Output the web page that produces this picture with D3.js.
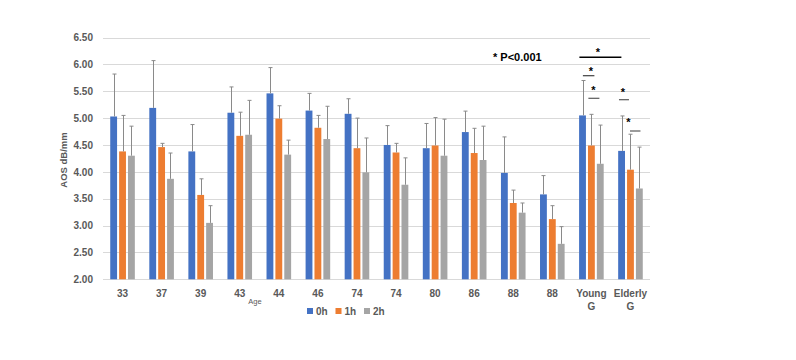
<!DOCTYPE html>
<html><head><meta charset="utf-8">
<script src="https://cdn.jsdelivr.net/npm/d3@7"></script>
<style>body{margin:0;background:#fff}svg{display:block}text{font-family:"Liberation Sans",Arial,sans-serif}</style>
</head><body>
<svg id="c" width="796" height="360"></svg>
<script>
const categories = ["33","37","39","43","44","46","74","74 ","80","86","88","88 ","Young G","Elderly G"];
const series = ["0h","1h","2h"];
const colors = ["#4472C4","#ED7D31","#A5A5A5"];
const mean0h = [5.03,5.19,4.38,5.10,5.46,5.14,5.08,4.50,4.44,4.74,3.98,3.58,5.05,4.39];
const mean1h = [4.38,4.46,3.57,4.67,4.99,4.82,4.44,4.36,4.49,4.35,3.42,3.12,4.49,4.04];
const mean2h = [4.30,3.87,3.05,4.69,4.32,4.61,3.99,3.76,4.30,4.22,3.24,2.66,4.15,3.69];
const err0h = [0.79,0.88,0.50,0.48,0.48,0.32,0.28,0.36,0.46,0.39,0.67,0.35,0.65,0.65];
const err1h = [0.67,0.07,0.30,0.44,0.24,0.23,0.56,0.17,0.52,0.46,0.24,0.25,0.58,0.66];
const err2h = [0.55,0.48,0.32,0.64,0.27,0.61,0.64,0.50,0.68,0.63,0.18,0.32,0.72,0.77];
const yTicks = [2.00,2.50,3.00,3.50,4.00,4.50,5.00,5.50,6.00,6.50];
const means = [mean0h, mean1h, mean2h];
const errs = [err0h, err1h, err2h];

const svg = d3.select("#c");
const x0 = d3.scaleBand().domain(categories).range([103, 650]).padding(0);
const x1 = d3.scaleBand().domain(series).range([-12.3, 12.3]).paddingInner(0.23);
const y = d3.scaleLinear().domain([2, 6.5]).range([279.3, 37.5]);

// gridlines
svg.append("g").selectAll("line").data(yTicks).join("line")
  .attr("x1", 103).attr("x2", 650)
  .attr("y1", d => Math.round(y(d)) + 0.5).attr("y2", d => Math.round(y(d)) + 0.5)
  .attr("stroke", "#d9d9d9").attr("stroke-width", 1);

// y axis labels
const yAxis = d3.axisLeft(y).tickValues(yTicks).tickFormat(d3.format(".2f")).tickSize(0).tickPadding(0);
const ya = svg.append("g").attr("transform", "translate(93,0)").call(yAxis);
ya.select(".domain").remove();
ya.selectAll("text").attr("font-size", 10).attr("font-weight", "bold").attr("fill", "#595959").attr("font-family", "'Liberation Sans',Arial,sans-serif");

// bars
const rows = [];
categories.forEach((c, i) => series.forEach((s, j) => rows.push({c, s, j, v: means[j][i], e: errs[j][i]})));
const g = svg.append("g");
g.selectAll("rect").data(rows).join("rect")
  .attr("x", d => x0(d.c) + x0.bandwidth() / 2 + x1(d.s))
  .attr("width", x1.bandwidth())
  .attr("y", d => y(d.v)).attr("height", d => y(2) - y(d.v))
  .attr("fill", d => colors[d.j]);

// error bars
const eg = svg.append("g").attr("stroke", "#8a8a8a").attr("stroke-width", 1);
rows.forEach(d => {
  const cx = Math.round(x0(d.c) + x0.bandwidth() / 2 + x1(d.s) + x1.bandwidth() / 2) + 0.5;
  eg.append("line").attr("x1", cx).attr("x2", cx).attr("y1", y(d.v)).attr("y2", y(d.v + d.e));
  eg.append("line").attr("x1", cx - 2).attr("x2", cx + 2).attr("y1", y(d.v + d.e)).attr("y2", y(d.v + d.e));
});

// x labels
const xl = svg.append("g");
categories.forEach(c => {
  const parts = c.trim().split(" ");
  const t = xl.append("text").attr("x", x0(c) + x0.bandwidth() / 2).attr("y", 297)
    .attr("text-anchor", "middle").attr("font-size", 10).attr("font-weight", "bold").attr("fill", "#595959");
  parts.forEach((p, k) => t.append("tspan").attr("x", x0(c) + x0.bandwidth() / 2).attr("dy", k === 0 ? 0 : 13).text(p));
});

// axis titles
svg.append("text").attr("x", 255).attr("y", 304).attr("text-anchor", "middle").attr("font-size", 7.5).attr("fill", "#595959").text("Age");
svg.append("text").attr("transform", "translate(67,160) rotate(-90)").attr("text-anchor", "middle")
  .attr("font-size", 9.5).attr("font-weight", "bold").attr("fill", "#595959").text("AOS dB/mm");

// legend
const lg = svg.append("g");
series.forEach((s, j) => {
  const lx = 307 + j * 28.5;
  lg.append("rect").attr("x", lx).attr("y", 308).attr("width", 6).attr("height", 6).attr("fill", colors[j]);
  lg.append("text").attr("x", lx + 9).attr("y", 314.5).attr("font-size", 10).attr("font-weight", "bold").attr("fill", "#595959").text(s);
});

// significance annotations
svg.append("text").attr("x", 493).attr("y", 61).attr("font-size", 11).attr("font-weight", "bold").attr("fill", "#000").text("* P<0.001");
const sig = [
  {c: "Young G", x1: -12, x2: 30, ly: 57.3, sx: 6.5, sy: 52, col: "#000", w: 1.5},
  {c: "Young G", x1: -8.5, x2: 3, ly: 75.7, sx: -0.5, sy: 71, col: "#404040", w: 1.2},
  {c: "Young G", x1: -3, x2: 8, ly: 98.3, sx: 2, sy: 90, col: "#595959", w: 1.2},
  {c: "Elderly G", x1: -11.5, x2: -1.5, ly: 99.7, sx: -7.5, sy: 92, col: "#595959", w: 1.2},
  {c: "Elderly G", x1: -0.5, x2: 10, ly: 131, sx: -2, sy: 121.5, col: "#595959", w: 1.2}
];
sig.forEach(d => {
  const cx = x0(d.c) + x0.bandwidth() / 2;
  svg.append("line").attr("x1", cx + d.x1).attr("x2", cx + d.x2).attr("y1", d.ly).attr("y2", d.ly)
    .attr("stroke", d.col).attr("stroke-width", d.w);
  svg.append("text").attr("x", cx + d.sx).attr("y", d.sy + 4).attr("text-anchor", "middle")
    .attr("font-size", 11).attr("font-weight", "bold").attr("fill", "#000").text("*");
});
</script>
</body></html>
